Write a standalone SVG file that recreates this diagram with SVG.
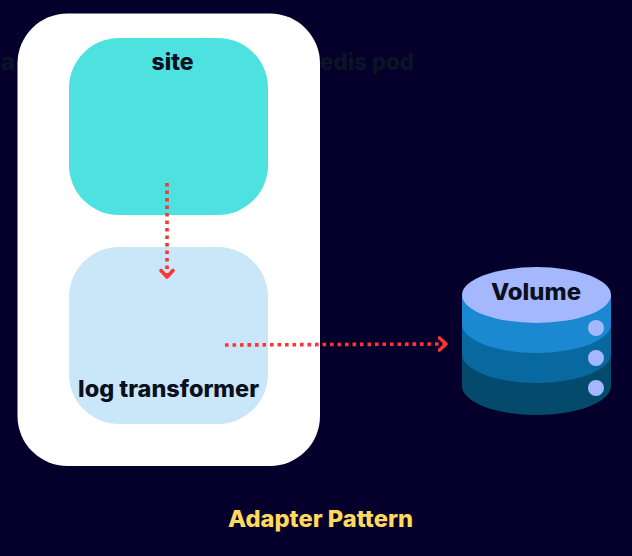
<svg xmlns="http://www.w3.org/2000/svg" width="632" height="556" viewBox="0 0 632 556">
  <style>
    text { font-family: "Inter", "Liberation Sans", sans-serif; font-weight: 800; font-size: 22.5px; fill: #0b0f1e; }
    .ghost { fill: #0a1424; }
    .dash { fill: none; stroke: #ff3333; stroke-width: 3.6; stroke-dasharray: 3.6 3.9; }
    .head { fill: none; stroke: #ff3333; stroke-width: 3.6; stroke-linecap: round; stroke-linejoin: round; }
    .dot { fill: #a5b8fd; }
  </style>
  <rect width="632" height="556" fill="#05002b"/>
  <g id="ghost-labels">
    <text class="ghost" x="1" y="70" textLength="14" lengthAdjust="spacingAndGlyphs">a</text>
    <text class="ghost" x="320" y="70" textLength="94" lengthAdjust="spacingAndGlyphs">edis pod</text>
  </g>
  <g id="pod">
    <rect x="17.500" y="13.500" width="302.500" height="452.500" rx="50" fill="#ffffff"/>
  </g>
  <g id="site">
    <rect x="69" y="38" width="199" height="177" rx="50" fill="#4de1df"/>
    <text x="172.500" y="70" text-anchor="middle" textLength="42" lengthAdjust="spacingAndGlyphs">site</text>
  </g>
  <g id="log-transformer">
    <rect x="69" y="247" width="199" height="177" rx="50" fill="#c9e7f8"/>
    <text x="168.500" y="397" text-anchor="middle" textLength="181" lengthAdjust="spacingAndGlyphs">log transformer</text>
  </g>
  <g id="volume">
    <path d="M462 296V386A74.500 29 0 0 0 611 386V296Z" fill="#044a6c"/>
    <path d="M462 296V354A74.500 29 0 0 0 611 354V296Z" fill="#0868a0"/>
    <path d="M462 296V324A74.500 29 0 0 0 611 324V296Z" fill="#1b88d2"/>
    <ellipse cx="536.500" cy="295" rx="74.500" ry="28" fill="#a5b8fd"/>
    <circle class="dot" cx="596" cy="328" r="8"/>
    <circle class="dot" cx="596" cy="358" r="8"/>
    <circle class="dot" cx="596" cy="388" r="8"/>
    <text x="536" y="300" text-anchor="middle" textLength="90" lengthAdjust="spacingAndGlyphs">Volume</text>
  </g>
  <g id="connectors">
    <path class="dash" d="M167 183V276"/>
    <path class="head" d="M161 270.500L167 277L173 270.500"/>
    <path class="dash" d="M225 345L445 344"/>
    <path class="head" d="M439.500 338L446 344L439.500 350"/>
  </g>
  <text x="320.500" y="527" text-anchor="middle" textLength="185" lengthAdjust="spacingAndGlyphs" style="fill:#ffd95e">Adapter Pattern</text>
</svg>
